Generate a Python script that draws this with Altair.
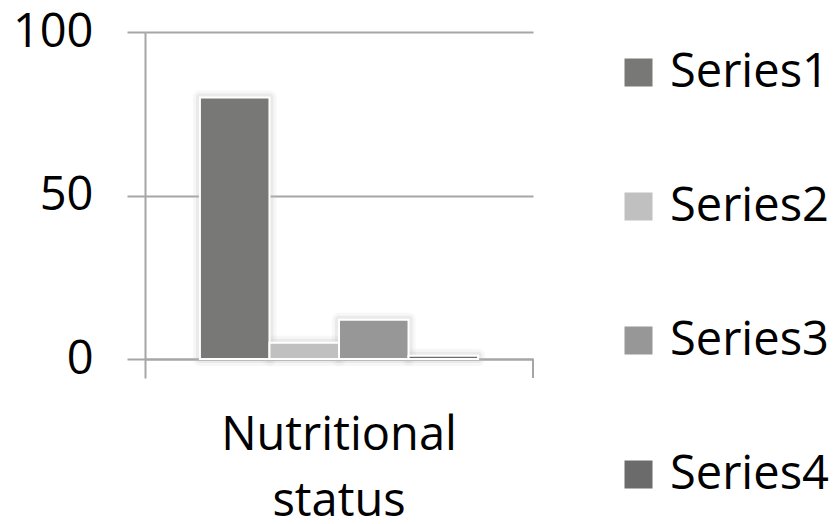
import altair as alt
import pandas as pd

categories = ["Nutritional status"]
series = ["Series1", "Series2", "Series3", "Series4"]
values = [80, 5, 12, 1]
colors = ["#787876", "#c0c0c0", "#979797", "#6b6b6b"]

df = pd.DataFrame({
    "category": categories * len(series),
    "series": series,
    "value": values,
})

FONT = "Open Sans"
GRID = "#a6a6a6"
FS = 47

x = alt.X(
    "category:N", title=None,
    scale=alt.Scale(paddingInner=0, paddingOuter=0),
    axis=alt.Axis(
        labelExpr="split(datum.label, ' ')", labelAngle=0, labelFontSize=FS,
        labelFont=FONT, labelColor="#000000", labelPadding=34, labelLineHeight=66,
        labelBaseline="top", labelLimit=0,
        tickSize=19, tickWidth=2, tickColor=GRID, bandPosition=0,
        domainColor=GRID, domainWidth=2, grid=False,
    ),
)
xo = alt.XOffset("series:N", sort=series, scale=alt.Scale(paddingInner=0, paddingOuter=0.79))
y = alt.Y(
    "value:Q", title=None, scale=alt.Scale(domain=[0, 100], nice=False),
    axis=alt.Axis(
        values=[0, 50, 100], labelFontSize=FS, labelFont=FONT, labelColor="#000000",
        labelPadding=34, tickSize=18, tickWidth=2, tickColor=GRID,
        domainColor=GRID, domainWidth=2, grid=True, gridColor=GRID, gridWidth=2,
    ),
)

base = alt.Chart(df).encode(x=x, xOffset=xo, y=y)

shadow1 = base.mark_bar(stroke="#bbbbbb", strokeWidth=14, strokeOpacity=0.12, fill="#dddddd", strokeJoin="round")
shadow2 = base.mark_bar(stroke="#bbbbbb", strokeWidth=8, strokeOpacity=0.2, fill="#dddddd", strokeJoin="round")

bars = base.mark_bar(stroke="white", strokeWidth=2).encode(
    color=alt.Color(
        "series:N", sort=series,
        scale=alt.Scale(domain=series, range=colors),
        legend=alt.Legend(
            title=None, orient="none", legendX=470, legendY=17,
            symbolType="square", symbolSize=784, symbolStrokeWidth=0,
            labelFontSize=FS, labelFont=FONT, labelColor="#000000",
            labelOffset=8, rowPadding=86, padding=0, labelLimit=0,
        ),
    )
)

right_tick = alt.Chart(df).mark_rule(color=GRID, strokeWidth=2).encode(
    x=alt.value(388), y=alt.value(327), y2=alt.value(346)
)

chart = alt.layer(shadow1, shadow2, bars, right_tick).properties(
    width=388, height=327,
    autosize=alt.AutoSizeParams(type="none"),
    padding={"left": 137, "top": 24, "right": 297, "bottom": 165},
).configure_view(stroke=None)

chart.save("out.html", embed_options={"renderer": "svg", "actions": False})
